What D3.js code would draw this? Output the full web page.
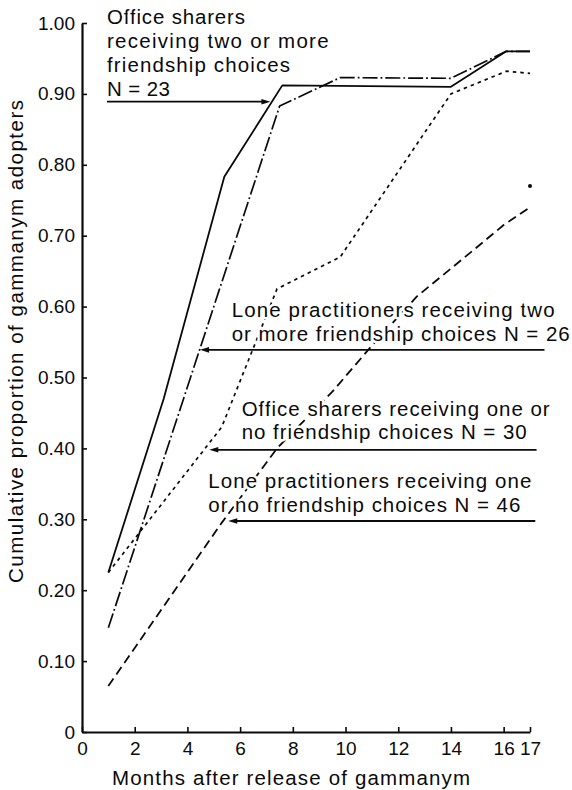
<!DOCTYPE html>
<html>
<head>
<meta charset="utf-8">
<script src="https://cdn.jsdelivr.net/npm/d3@7"></script>
<style>
  html, body { margin: 0; padding: 0; background: #fff; }
  svg { display: block; }
  text { font-family: "Liberation Sans", Arial, Helvetica, sans-serif; fill: #0a0a0a; }
</style>
</head>
<body>
<svg id="chart" width="572" height="790"></svg>
<script>
// ---------------- data ----------------
const officeTwoMoreMonths = [1, 3.1, 5.4, 7.6, 14, 16.1, 17];
const officeTwoMoreValues = [0.225, 0.47, 0.783, 0.912, 0.91, 0.96, 0.96];

const loneTwoMoreMonths = [1, 7.5, 9.8, 14, 16.1, 17];
const loneTwoMoreValues = [0.147, 0.883, 0.923, 0.922, 0.96, 0.96];

const officeOneNoMonths = [1, 5.3, 7.4, 9.8, 14, 16.1, 17];
const officeOneNoValues = [0.225, 0.43, 0.625, 0.67, 0.90, 0.932, 0.929];

const loneOneNoMonths = [1, 5.3, 7.4, 9.5, 11, 12.7, 14.7, 16, 17];
const loneOneNoValues = [0.065, 0.295, 0.40, 0.48, 0.545, 0.614, 0.675, 0.715, 0.74];

const strayPointMonth = [17];
const strayPointValue = [0.77];

const yTickValues = [0, 0.1, 0.2, 0.3, 0.4, 0.5, 0.6, 0.7, 0.8, 0.9, 1.0];
const yTickLabels = ["0", "0.10", "0.20", "0.30", "0.40", "0.50", "0.60", "0.70", "0.80", "0.90", "1.00"];
const xTickValues = [0, 2, 4, 6, 8, 10, 12, 14, 16, 17];
const xTickLabels = ["0", "2", "4", "6", "8", "10", "12", "14", "16", "17"];

const xTitle = "Months after release of gammanym";
const yTitle = "Cumulative proportion of gammanym adopters";

// annotation text lines
const labelOfficeTwoMore = ["Office sharers", "receiving two or more", "friendship choices", "N = 23"];
const labelLoneTwoMore = ["Lone practitioners receiving two", "or more friendship choices N = 26"];
const labelOfficeOneNo = ["Office sharers receiving one or", "no friendship choices N = 30"];
const labelLoneOneNo = ["Lone practitioners receiving one", "or no friendship choices N = 46"];

// ---------------- layout ----------------
const svg = d3.select("#chart");
const x = d3.scaleLinear().domain([0, 17]).range([82, 530]);
const y = d3.scaleLinear().domain([0, 1]).range([732, 23]);

function zipSeries(ms, vs) { return ms.map((m, i) => ({ m: m, v: vs[i] })); }

const series = [
  { data: zipSeries(officeTwoMoreMonths, officeTwoMoreValues), dash: null, w: 1.8 },
  { data: zipSeries(loneTwoMoreMonths, loneTwoMoreValues), dash: "15,3,1.8,3", w: 1.7 },
  { data: zipSeries(officeOneNoMonths, officeOneNoValues), dash: "3.5,4", w: 1.7 },
  { data: zipSeries(loneOneNoMonths, loneOneNoValues), dash: "9,5", w: 1.8 }
];

const line = d3.line().x(d => x(d.m)).y(d => y(d.v));

// axes
const yAxis = d3.axisLeft(y)
  .tickValues(yTickValues)
  .tickFormat((d, i) => yTickLabels[i])
  .tickSizeInner(-5).tickSizeOuter(0).tickPadding(7);
const xAxis = d3.axisBottom(x)
  .tickValues(xTickValues)
  .tickFormat((d, i) => xTickLabels[i])
  .tickSizeInner(-5).tickSizeOuter(0).tickPadding(10);

const gy = svg.append("g").attr("transform", `translate(${x(0)},0)`).call(yAxis);
const gx = svg.append("g").attr("transform", `translate(0,${y(0)})`).call(xAxis);
[gx, gy].forEach(g => {
  g.select(".domain").attr("stroke", "#0a0a0a").attr("stroke-width", 2.2);
  g.selectAll(".tick line").attr("stroke", "#0a0a0a").attr("stroke-width", 1.6);
  g.selectAll(".tick text").attr("font-size", 19).attr("fill", "#0a0a0a")
    .attr("font-family", "'Liberation Sans', Arial, sans-serif");
});

// series lines
svg.append("g").selectAll("path").data(series).join("path")
  .attr("d", d => line(d.data))
  .attr("fill", "none")
  .attr("stroke", "#0a0a0a")
  .attr("stroke-width", d => d.w)
  .attr("stroke-dasharray", d => d.dash)
  .attr("stroke-linejoin", "round");

// stray dot
svg.append("g").selectAll("circle").data(zipSeries(strayPointMonth, strayPointValue)).join("circle")
  .attr("cx", d => x(d.m)).attr("cy", d => y(d.v)).attr("r", 2).attr("fill", "#0a0a0a");

// annotations
const fs = 20.5;
function textBlock(lines, px, baselines, widths) {
  const g = svg.append("g");
  lines.forEach((t, i) => {
    g.append("text")
      .attr("x", px).attr("y", baselines[i])
      .attr("font-size", fs)
      .attr("textLength", widths[i]).attr("lengthAdjust", "spacing")
      .attr("stroke", "#fff").attr("stroke-width", 5).attr("stroke-linejoin", "round")
      .attr("paint-order", "stroke")
      .text(t);
  });
}
textBlock(labelOfficeTwoMore, 107, [24, 47.7, 71.7, 95.5], [138, 221.6, 183, 63]);
textBlock(labelLoneTwoMore, 231.7, [316.7, 340.7], [323, 338]);
textBlock(labelOfficeOneNo, 241.7, [415.7, 439], [308, 285]);
textBlock(labelLoneOneNo, 208.3, [488.3, 511.7], [323, 312]);

// arrows (in data coordinates): [value, fromMonth, toMonth]
const arrows = [
  { v: 0.889, from: 0.95, to: 7.15 },
  { v: 0.539, from: 17.55, to: 4.48 },
  { v: 0.398, from: 17.25, to: 4.83 },
  { v: 0.2976, from: 17.2, to: 5.55 }
];
const ga = svg.append("g");
arrows.forEach(a => {
  const x1 = x(a.from), x2 = x(a.to), yy = y(a.v);
  const dir = x2 > x1 ? 1 : -1;
  ga.append("line").attr("x1", x1).attr("x2", x2 - dir * 6).attr("y1", yy).attr("y2", yy)
    .attr("stroke", "#0a0a0a").attr("stroke-width", 1.8);
  ga.append("path")
    .attr("d", `M${x2},${yy} L${x2 - dir * 9},${yy - 2.8} L${x2 - dir * 9},${yy + 2.8} Z`)
    .attr("fill", "#0a0a0a");
});

// axis titles
svg.append("text")
  .attr("x", 112).attr("y", 785)
  .attr("font-size", fs)
  .attr("textLength", 358).attr("lengthAdjust", "spacing")
  .text(xTitle);

svg.append("text")
  .attr("transform", "rotate(-90)")
  .attr("x", -341.5).attr("y", 23)
  .attr("text-anchor", "middle")
  .attr("font-size", fs)
  .attr("textLength", 483).attr("lengthAdjust", "spacing")
  .text(yTitle);
</script>
</body>
</html>
